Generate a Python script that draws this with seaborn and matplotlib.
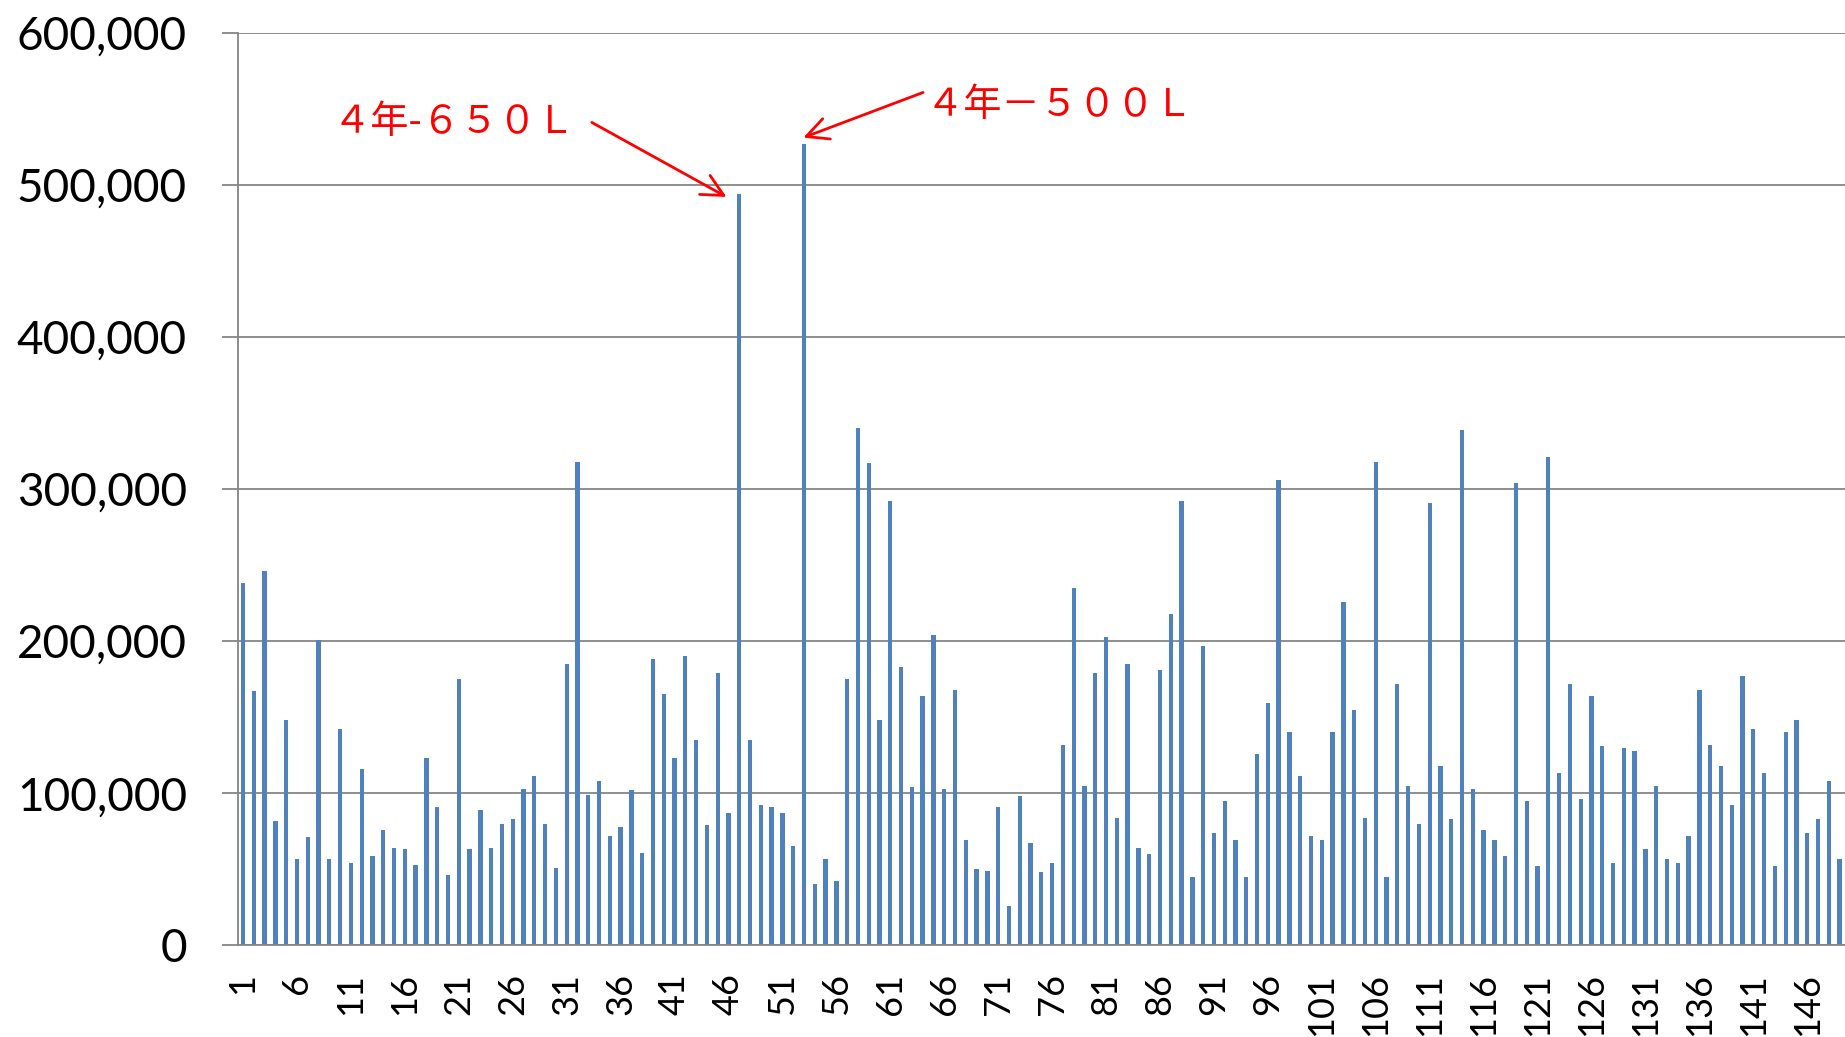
import numpy as np
import pandas as pd
import matplotlib
matplotlib.use("Agg")
import matplotlib.pyplot as plt
import seaborn as sns
from matplotlib.ticker import FuncFormatter, MultipleLocator

# ---- data (values in thousands) ----
categories = [str(i) for i in range(1, 150)]
values_k = [
    238, 167, 246, 82, 148, 57, 71, 201, 57, 142,
    54, 116, 59, 76, 64, 63, 53, 123, 91, 46,
    175, 63, 89, 64, 80, 83, 103, 111, 80, 51,
    185, 318, 99, 108, 72, 78, 102, 61, 188, 165,
    123, 190, 135, 79, 179, 87, 494, 135, 92, 91,
    87, 65, 527, 40, 57, 42, 175, 340, 317, 148,
    292, 183, 104, 164, 204, 103, 168, 69, 50, 49,
    91, 26, 98, 67, 48, 54, 132, 235, 105, 179,
    203, 84, 185, 64, 60, 181, 218, 292, 45, 197,
    74, 95, 69, 45, 126, 159, 306, 140, 111, 72,
    69, 140, 226, 155, 84, 318, 45, 172, 105, 80,
    291, 118, 83, 339, 103, 76, 69, 59, 304, 95,
    52, 321, 113, 172, 96, 164, 131, 54, 130, 128,
    63, 105, 57, 54, 72, 168, 132, 118, 92, 177,
    142, 113, 52, 140, 148, 74, 83, 108, 57,
]
values = [v * 1000 for v in values_k]
tick_labels = [str(i) for i in range(1, 150, 5)]
annot_texts = ["４年-６５０Ｌ", "４年－５００Ｌ"]

sns.set_style("white")
plt.rcParams['font.family'] = ['Lato', 'DejaVu Sans']

fig = plt.figure(figsize=(18.45, 10.37), dpi=100)
ax = fig.add_axes([0.1288, 0.0884, 0.8712, 0.8801])

df = pd.DataFrame({"cat": categories, "val": values})
sns.barplot(data=df, x="cat", y="val", color="#4F81BD", saturation=1,
            width=0.4, ax=ax, errorbar=None, linewidth=0, edgecolor="none")

ax.set_xlim(-0.5, 148.16)
ax.set_ylim(0, 600000)
ax.set_xlabel("")
ax.set_ylabel("")

grid_col = "#868686"
ax.yaxis.set_major_locator(MultipleLocator(100000))
ax.yaxis.set_major_formatter(FuncFormatter(lambda v, p: f"{int(v):,}"))
ax.grid(axis='y', color=grid_col, lw=1.3)
ax.grid(axis='x', visible=False)
ax.set_axisbelow(True)

ax.set_xticks([categories.index(t) for t in tick_labels])
ax.set_xticklabels(tick_labels, rotation=90)
ax.set_xticks(np.arange(-0.5, 148.6, 1.0), minor=True)

ax.tick_params(axis='x', which='major', length=0, labelsize=26, pad=20, colors='black')
ax.tick_params(axis='x', which='minor', length=9.5, width=1.3, color=grid_col, direction='out')
ax.tick_params(axis='y', which='major', length=11.5, width=1.3, color=grid_col,
               labelsize=33, pad=25, labelcolor='black', direction='out', left=True)

for s in ['top', 'right']:
    ax.spines[s].set_visible(False)
for s in ['left', 'bottom']:
    ax.spines[s].set_color(grid_col)
    ax.spines[s].set_linewidth(1.3)

# annotations
red = "#FF0000"
cjk = ['Noto Sans CJK JP', 'DejaVu Sans']
ax.text(8.3, 541000, annot_texts[0], color=red, fontsize=27.5, family=cjk,
        ha='left', va='center')
ax.text(63.3, 552000, annot_texts[1], color=red, fontsize=27.5, family=cjk,
        ha='left', va='center')
arrow_kw = dict(arrowstyle='->,head_length=0.6,head_width=0.3', color=red, lw=2,
                mutation_scale=26, shrinkA=0, shrinkB=0)
ax.annotate('', xy=(44.82, 492000), xytext=(32.33, 541000), arrowprops=arrow_kw)
ax.annotate('', xy=(51.94, 531000), xytext=(63.04, 560700), arrowprops=arrow_kw)

fig.savefig("out.png", dpi=100)
